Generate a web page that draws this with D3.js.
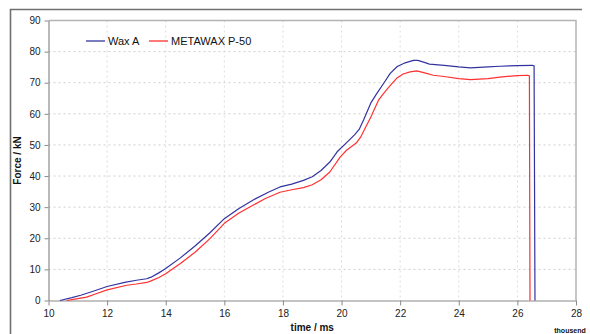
<!DOCTYPE html>
<html>
<head>
<meta charset="utf-8">
<script src="https://cdn.jsdelivr.net/npm/d3@7/dist/d3.min.js"></script>
<style>
  body { margin: 0; background: #fff; }
  svg { display: block; font-family: "Liberation Sans", Arial, sans-serif; }
</style>
</head>
<body>
<div id="chart"></div>
<script>
// time in thousand ms, force in kN
const waxATime = [10.39, 10.8, 11.1, 11.5, 12.0, 12.6, 13.0, 13.35, 13.5, 13.75, 14.0, 14.5, 15.0, 15.5, 16.0, 16.5, 17.0, 17.5, 17.9, 18.3, 18.7, 19.0, 19.3, 19.6, 19.85, 20.2, 20.45, 20.6, 20.75, 21.0, 21.2, 21.45, 21.66, 21.9, 22.17, 22.45, 22.6, 22.8, 23.0, 23.5, 24.0, 24.4, 25.0, 25.4, 26.0, 26.5, 26.57, 26.6];
const waxAForce = [0, 0.9, 1.7, 2.9, 4.5, 5.8, 6.5, 7.0, 7.5, 8.8, 10.3, 13.7, 17.5, 21.7, 26.3, 29.6, 32.4, 34.8, 36.5, 37.4, 38.6, 39.8, 41.8, 44.5, 47.8, 51.0, 53.3, 55.0, 58.0, 63.5, 66.5, 70.0, 73.0, 75.2, 76.4, 77.2, 77.2, 76.6, 76.0, 75.6, 75.1, 74.8, 75.1, 75.3, 75.5, 75.6, 75.4, 0];

const metawaxTime = [10.62, 11.0, 11.3, 11.6, 12.0, 12.67, 13.0, 13.35, 13.5, 13.75, 14.0, 14.5, 15.0, 15.5, 16.0, 16.5, 16.9, 17.4, 17.9, 18.3, 18.7, 19.0, 19.3, 19.6, 19.95, 20.17, 20.5, 20.65, 20.8, 21.0, 21.26, 21.43, 21.65, 21.88, 22.1, 22.34, 22.57, 22.9, 23.13, 23.5, 24.0, 24.4, 25.0, 25.4, 26.0, 26.35, 26.41, 26.43];
const metawaxForce = [0, 0.6, 1.1, 2.1, 3.4, 4.9, 5.3, 5.8, 6.3, 7.3, 8.6, 11.9, 15.5, 19.8, 24.8, 28.1, 30.2, 32.8, 34.8, 35.6, 36.3, 37.2, 38.8, 41.3, 46.1, 48.3, 50.6, 52.5, 55.3, 59.0, 64.4, 66.5, 69.0, 71.4, 72.8, 73.5, 73.8, 73.0, 72.4, 72.0, 71.3, 71.0, 71.3, 71.8, 72.3, 72.4, 72.2, 0];

const xTicks = [10, 12, 14, 16, 18, 20, 22, 24, 26, 28];
const yTicks = [0, 10, 20, 30, 40, 50, 60, 70, 80, 90];

const series = [
  { name: "Wax A", color: "#33339f", t: waxATime, f: waxAForce },
  { name: "METAWAX P-50", color: "#ff3030", t: metawaxTime, f: metawaxForce }
];

const width = 590, height = 334;
const margin = { left: 48.5, right: 14, top: 20.5, bottom: 33.5 };
const plotW = width - margin.left - margin.right;
const plotH = height - margin.top - margin.bottom;

const svg = d3.select("#chart").append("svg")
  .attr("width", width)
  .attr("height", height);

// outer frame
svg.append("path")
  .attr("d", "M10.5,340 V9.5 H582")
  .attr("fill", "none")
  .attr("stroke", "#707070")
  .attr("stroke-width", 1.6);

const g = svg.append("g")
  .attr("transform", "translate(" + margin.left + "," + margin.top + ")");

const x = d3.scaleLinear().domain([10, 28]).range([0, plotW]);
const y = d3.scaleLinear().domain([0, 90]).range([plotH, 0]);

// grid
g.append("g").selectAll("line")
  .data(yTicks.slice(1, -1))
  .enter().append("line")
  .attr("x1", 0).attr("x2", plotW)
  .attr("y1", d => y(d)).attr("y2", d => y(d))
  .attr("stroke", "#cfcfcf")
  .attr("stroke-dasharray", "2,3");

g.append("g").selectAll("line")
  .data(xTicks.slice(1, -1))
  .enter().append("line")
  .attr("y1", 0).attr("y2", plotH)
  .attr("x1", d => x(d)).attr("x2", d => x(d))
  .attr("stroke", "#dcdcdc")
  .attr("stroke-dasharray", "2,3");

// plot frame top / right
g.append("path")
  .attr("d", "M0,0 H" + plotW + " V" + plotH)
  .attr("fill", "none")
  .attr("stroke", "#b4b4b4")
  .attr("stroke-width", 1.5);

// axes
const xAxis = g.append("g")
  .attr("transform", "translate(0," + plotH + ")")
  .call(d3.axisBottom(x).tickValues(xTicks).tickSize(5).tickPadding(4).tickSizeOuter(0));

const yAxis = g.append("g")
  .call(d3.axisLeft(y).tickValues(yTicks).tickSize(4).tickPadding(4).tickSizeOuter(0));

[xAxis, yAxis].forEach(a => {
  a.select(".domain").attr("stroke", "#8a8a8a").attr("stroke-width", 1.2);
  a.selectAll(".tick line").attr("stroke", "#8a8a8a");
  a.selectAll("text")
    .attr("fill", "#222")
    .style("font-size", "10px")
    .style("font-family", "Liberation Sans, Arial, sans-serif");
});

// lines
const line = d3.line()
  .x(d => x(d[0]))
  .y(d => y(d[1]));

series.forEach(s => {
  g.append("path")
    .datum(d3.zip(s.t, s.f))
    .attr("fill", "none")
    .attr("stroke", s.color)
    .attr("stroke-width", 1.2)
    .attr("stroke-linejoin", "round")
    .attr("d", line);
});

// legend
const legend = svg.append("g").attr("transform", "translate(86,41)");
const legendX = [0, 63];
series.forEach((s, i) => {
  const lg = legend.append("g").attr("transform", "translate(" + legendX[i] + ",0)");
  lg.append("line")
    .attr("x1", 0).attr("x2", 19)
    .attr("y1", 0).attr("y2", 0)
    .attr("stroke", s.color)
    .attr("stroke-width", 1.3);
  lg.append("text")
    .attr("x", 22).attr("y", 3.8)
    .attr("fill", "#111")
    .style("font-size", "11px")
    .text(s.name);
});

// axis titles
svg.append("text")
  .attr("transform", "translate(21," + (margin.top + plotH / 2) + ") rotate(-90)")
  .attr("text-anchor", "middle")
  .style("font-size", "10px")
  .style("font-weight", "bold")
  .attr("fill", "#111")
  .text("Force / kN");

svg.append("text")
  .attr("x", margin.left + plotW / 2)
  .attr("y", 331)
  .attr("text-anchor", "middle")
  .style("font-size", "10px")
  .style("font-weight", "bold")
  .attr("fill", "#111")
  .text("time / ms");

svg.append("text")
  .attr("x", 570)
  .attr("y", 333)
  .attr("text-anchor", "middle")
  .style("font-size", "7px")
  .style("font-weight", "bold")
  .attr("fill", "#111")
  .text("thousend");
</script>
</body>
</html>
